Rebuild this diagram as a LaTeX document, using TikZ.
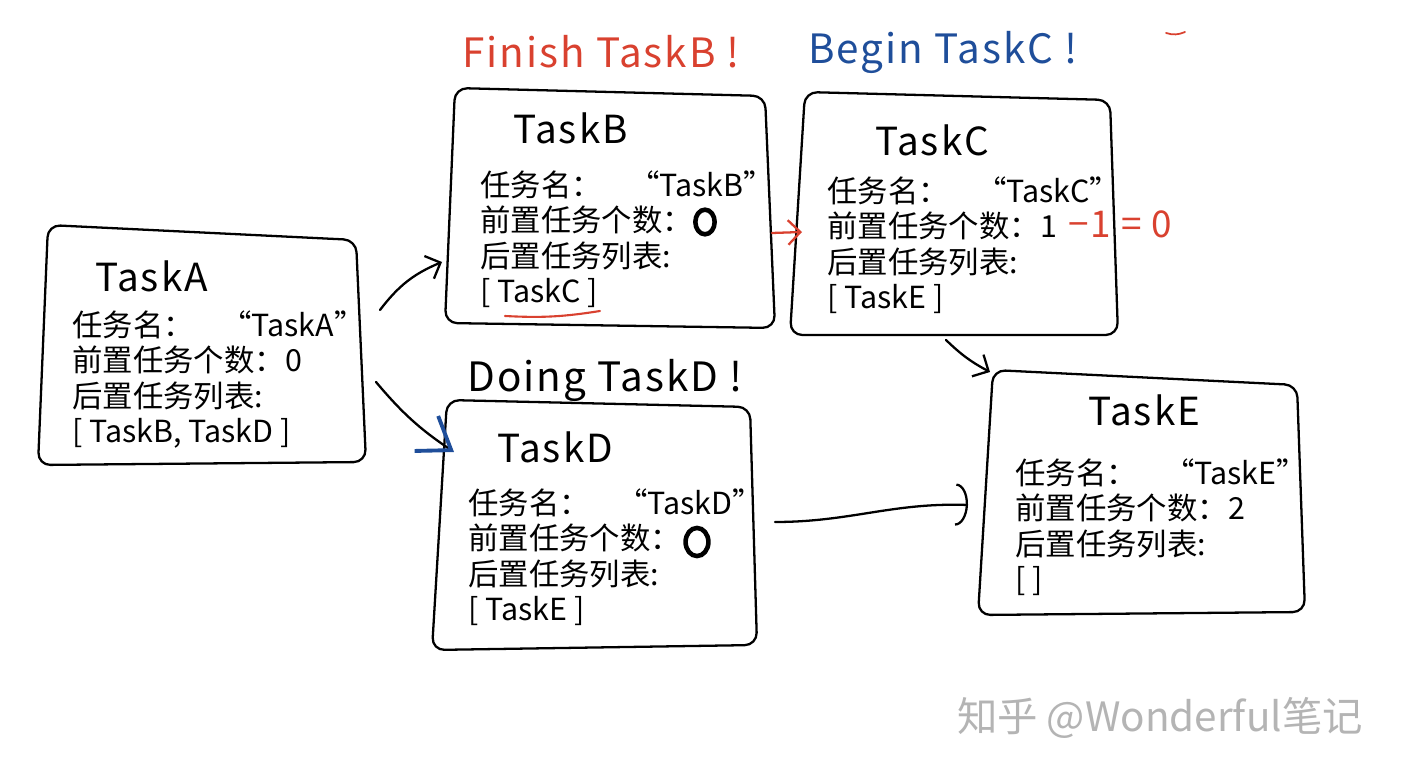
\documentclass[tikz,border=0pt]{standalone}
\usepackage{fontspec}
\setmainfont{Noto Sans CJK SC}
\newfontfamily\handfont[LetterSpace=5]{Noto Sans CJK SC}
\usetikzlibrary{arrows.meta,shapes.geometric}
\definecolor{inkred}{HTML}{D9412F}
\definecolor{inkblue}{HTML}{1F4E9A}
\definecolor{markgray}{HTML}{B4B4B4}
\begin{document}
\begin{tikzpicture}[x=0.02cm, y=-0.02cm,
    box/.style={draw, line width=1.3pt, rounded corners=7pt},
    title/.style={font=\handfont\fontsize{22}{26}\selectfont, anchor=west, inner sep=0pt},
    body/.style={font=\fontsize{17.3}{20.2}\selectfont, align=left, anchor=north west, inner sep=0pt},
    note/.style={font=\handfont\fontsize{23}{27}\selectfont, anchor=west, inner sep=0pt},
    zero/.style={ellipse, draw, line width=2.6pt, inner sep=0pt},
    link/.style={line width=1.3pt, line cap=round, -{Straight Barb[length=7pt, width=14pt]}}]
  \useasboundingbox (0,0) rectangle (1407,776);
  % the five boxes
  \draw[box] (48,225) -- (356,240) -- (366,462) -- (38,465) -- cycle;
  \draw[box] (455,88) -- (765,96) -- (775,328) -- (445,323) -- cycle;
  \draw[box] (805,92) -- (1110,100) -- (1118,335) -- (790,335) -- cycle;
  \draw[box] (447,400) -- (750,407) -- (757,645) -- (432,650) -- cycle;
  \draw[box] (993,370) -- (1297,385) -- (1305,612) -- (978,615) -- cycle;
  % TaskA
  \node[title] (tA) at (95,276) {TaskA};
  \node[body] (bA) at (72,310) {任务名：\hspace{0.9em}“TaskA”\\前置任务个数：0\\后置任务列表:\\{[}\ TaskB,\ TaskD\ ]};
  % TaskB
  \node[title] (tB) at (513,128) {TaskB};
  \node[body] (bB) at (480,170) {任务名：\hspace{0.9em}“TaskB”\\前置任务个数：\\后置任务列表:\\{[}\ TaskC\ ]};
  \node[zero, minimum width=11pt, minimum height=14pt] (zB) at (705,222) {};
  % TaskC
  \node[title] (tC) at (875,140) {TaskC};
  \node[body] (bC) at (827,176) {任务名：\hspace{0.9em}“TaskC”\\前置任务个数：1\\后置任务列表:\\{[}\ TaskE\ ]};
  \node[note, font=\handfont\fontsize{21}{25}\selectfont, text=inkred] (mC) at (1068,224) {−1\ =\ 0};
  % TaskD
  \node[title] (tD) at (497,447) {TaskD};
  \node[body] (bD) at (468,488) {任务名：\hspace{0.9em}“TaskD”\\前置任务个数：\\后置任务列表:\\{[}\ TaskE\ ]};
  \node[zero, minimum width=13pt, minimum height=16pt] (zD) at (697,542) {};
  % TaskE
  \node[title] (tE) at (1088,410) {TaskE};
  \node[body] (bE) at (1015,458) {任务名：\hspace{0.9em}“TaskE”\\前置任务个数：2\\后置任务列表:\\{[}\ ]};
  % notes above the boxes
  \node[note, text=inkred] (nB) at (462,52) {Finish TaskB !};
  \node[note, text=inkblue] (nC) at (808,52) {Begin TaskC !};
  \node[note] (nD) at (467,380) {Doing TaskD !};
  \node[font=\fontsize{23}{27}\selectfont, text=markgray] (wm) at (1160,718) {知乎 @Wonderful笔记};
  % arrow ends
  \coordinate (a1) at (380,310);  \coordinate (b1) at (442,262);
  \coordinate (a2) at (376,382);  \coordinate (d1) at (454,452);
  \coordinate (b2) at (772,233);  \coordinate (c1) at (802,232);
  \coordinate (c2) at (946,340);  \coordinate (e1) at (990,372);
  \coordinate (d2) at (775,522);  \coordinate (e2) at (968,505);
  \coordinate (u1) at (505,316);  \coordinate (u2) at (600,311);
  \coordinate (r1) at (1166,33);  \coordinate (r2) at (1185,32);
  % connectors
  \draw[link] (a1) to[bend left=15] (b1);
  \draw[link, -{Straight Barb[length=17pt, width=24pt, inkblue, line width=2.2pt]}] (a2) to[bend right=8] (d1);
  \draw[link, inkred] (b2) -- (c1);
  \draw[link] (c2) to[bend right=8] (e1);
  \draw[link, -{Arc Barb[length=7pt, width=24pt]}] (d2) to[out=0, in=178] (e2);
  \draw[inkred, line width=1.2pt, line cap=round] (u1) to[bend right=6] (u2);
  \draw[inkred, line width=1pt, line cap=round] (r1) to[bend right=20] (r2);
\end{tikzpicture}
\end{document}
